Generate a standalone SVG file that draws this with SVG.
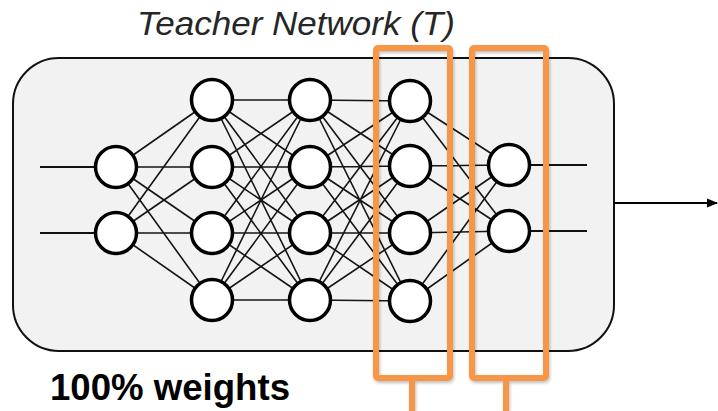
<svg xmlns="http://www.w3.org/2000/svg" width="718" height="411" viewBox="0 0 718 411">
  <defs>
    <marker id="arrowhead" markerWidth="12" markerHeight="12" refX="10" refY="6" orient="auto" markerUnits="userSpaceOnUse">
      <path d="M0,1.5 L11,6 L0,10.5 Z" fill="#000"/>
    </marker>
    <filter id="soft-shadow" x="-10%" y="-10%" width="130%" height="130%">
      <feDropShadow dx="1" dy="2" stdDeviation="1.5" flood-color="#000" flood-opacity="0.25"/>
    </filter>
  </defs>
  <style>
    .frame { fill: #f2f2f2; stroke: #111; stroke-width: 2; }
    .edge { stroke: #151515; stroke-width: 1.6; fill: none; }
    .io { stroke: #111; stroke-width: 1.8; fill: none; }
    .neuron { fill: #fff; stroke: #000; stroke-width: 3.5; }
    .highlight { fill: none; stroke: #f79646; stroke-width: 6; stroke-linejoin: round; }
    .title { font-family: "Liberation Sans", Arial, sans-serif; font-style: italic; font-size: 34px; fill: #262626; }
    .caption { font-family: "Liberation Sans", Arial, sans-serif; font-weight: bold; font-size: 36px; fill: #000; }
  </style>

  <rect x="0" y="0" width="718" height="411" fill="#fff"/>

  <!-- title -->
  <text id="title" class="title" x="137" y="35" textLength="318" lengthAdjust="spacingAndGlyphs">Teacher Network (T)</text>

  <!-- network frame -->
  <g id="frame">
    <rect class="frame" x="13" y="58" width="601" height="293" rx="46" ry="46"/>
  </g>

  <!-- connectors -->
  <g id="connectors">
    <!-- inputs and outputs -->
    <path class="io" d="M40,167 H116 M40,233 H116 M509,165 H587 M509,231 H587"/>
    <!-- layer 1 to layer 2 -->
    <path class="edge" d="M116,167 L212,100 M116,167 L212,167 M116,167 L212,233 M116,167 L212,300
                          M116,233 L212,100 M116,233 L212,167 M116,233 L212,233 M116,233 L212,300"/>
    <!-- layer 2 to layer 3 -->
    <path class="edge" d="M212,100 L310,100 M212,100 L310,167 M212,100 L310,233 M212,100 L310,300
                          M212,167 L310,100 M212,167 L310,167 M212,167 L310,233 M212,167 L310,300
                          M212,233 L310,100 M212,233 L310,167 M212,233 L310,233 M212,233 L310,300
                          M212,300 L310,100 M212,300 L310,167 M212,300 L310,233 M212,300 L310,300"/>
    <!-- layer 3 to layer 4 -->
    <path class="edge" d="M310,100 L410,101 M310,100 L410,166 M310,100 L410,233 M310,100 L410,301
                          M310,167 L410,101 M310,167 L410,166 M310,167 L410,233 M310,167 L410,301
                          M310,233 L410,101 M310,233 L410,166 M310,233 L410,233 M310,233 L410,301
                          M310,300 L410,101 M310,300 L410,166 M310,300 L410,233 M310,300 L410,301"/>
    <!-- layer 4 to layer 5 -->
    <path class="edge" d="M410,101 L509,165 M410,101 L509,231 M410,166 L509,165 M410,166 L509,231
                          M410,233 L509,165 M410,233 L509,231 M410,301 L509,165 M410,301 L509,231"/>
    <!-- output arrow -->
    <line x1="614" y1="203" x2="717" y2="203" stroke="#000" stroke-width="2" marker-end="url(#arrowhead)"/>
  </g>

  <!-- neurons -->
  <g id="layer-1">
    <circle class="neuron" cx="116" cy="167" r="20.5"/>
    <circle class="neuron" cx="116" cy="233" r="20.5"/>
  </g>
  <g id="layer-2">
    <circle class="neuron" cx="212" cy="100" r="20.5"/>
    <circle class="neuron" cx="212" cy="167" r="20.5"/>
    <circle class="neuron" cx="212" cy="233" r="20.5"/>
    <circle class="neuron" cx="212" cy="300" r="20.5"/>
  </g>
  <g id="layer-3">
    <circle class="neuron" cx="310" cy="100" r="20.5"/>
    <circle class="neuron" cx="310" cy="167" r="20.5"/>
    <circle class="neuron" cx="310" cy="233" r="20.5"/>
    <circle class="neuron" cx="310" cy="300" r="20.5"/>
  </g>
  <g id="layer-4">
    <circle class="neuron" cx="410" cy="101" r="20.5"/>
    <circle class="neuron" cx="410" cy="166" r="20.5"/>
    <circle class="neuron" cx="410" cy="233" r="20.5"/>
    <circle class="neuron" cx="410" cy="301" r="20.5"/>
  </g>
  <g id="layer-5">
    <circle class="neuron" cx="509" cy="165" r="20.5"/>
    <circle class="neuron" cx="509" cy="231" r="20.5"/>
  </g>

  <!-- highlighted layers with stems -->
  <g id="highlight-layer-4" filter="url(#soft-shadow)">
    <rect class="highlight" x="376" y="48" width="74" height="330" rx="2"/>
    <line class="highlight" x1="412" y1="378" x2="412" y2="411"/>
  </g>
  <g id="highlight-layer-5" filter="url(#soft-shadow)">
    <rect class="highlight" x="472" y="48" width="74" height="330" rx="2"/>
    <line class="highlight" x1="506" y1="378" x2="506" y2="411"/>
  </g>

  <!-- caption -->
  <text id="caption" class="caption" x="50" y="400" textLength="240" lengthAdjust="spacingAndGlyphs">100% weights</text>
</svg>
